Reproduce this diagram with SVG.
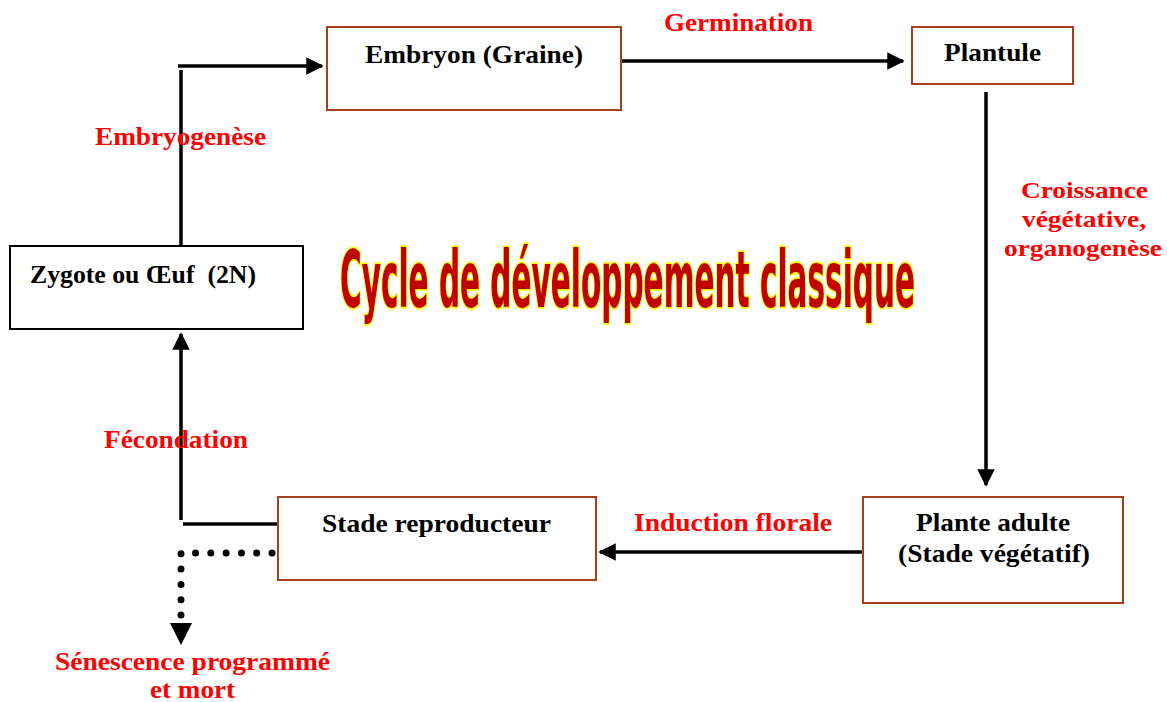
<svg xmlns="http://www.w3.org/2000/svg" width="1167" height="702" viewBox="0 0 1167 702">
<style>
.box{fill:#fff;stroke:#A5401C;stroke-width:2}
.boxk{fill:#fff;stroke:#000;stroke-width:2}
.t{font-family:"Liberation Serif","Times New Roman",serif;font-weight:bold;font-size:25px;fill:#000}
.r{font-family:"Liberation Serif","Times New Roman",serif;font-weight:bold;font-size:25px;fill:#FF0000}
.r2{font-family:"Liberation Serif","Times New Roman",serif;font-weight:bold;font-size:23.5px;fill:#FF0000}
.ln{stroke:#000;stroke-width:3.5;fill:none}
.title{font-family:"Liberation Sans Narrow","DejaVu Sans Condensed","Liberation Sans",sans-serif;font-weight:bold;font-size:78px;fill:#C00000;stroke:#FFFF00;stroke-width:3.5;paint-order:stroke;stroke-linejoin:round}
</style>
<defs>
<marker id="ah" markerWidth="5" markerHeight="5" refX="4.5" refY="2.5" orient="auto" markerUnits="strokeWidth">
<path d="M0,0 L5,2.5 L0,5 Z" fill="#000"/>
</marker>
</defs>
<rect width="1167" height="702" fill="#fff"/>
<g id="connectors">
<path class="ln" d="M178,66 L322,66" marker-end="url(#ah)"/>
<path class="ln" d="M181,70 L181,246"/>
<path class="ln" d="M621,61 L903,61" marker-end="url(#ah)"/>
<path class="ln" d="M986,92 L986,485" marker-end="url(#ah)"/>
<path class="ln" d="M863,552 L600,552" marker-end="url(#ah)"/>
<path class="ln" d="M278,524 L183,524"/>
<path class="ln" d="M181,520 L181,334" marker-end="url(#ah)"/>
<path d="M272,553 L181,553 L181,616" fill="none" stroke="#000" stroke-width="7" stroke-linecap="round" stroke-dasharray="0 15.3"/>
<path d="M170,623 L192,623 L181,645 Z" fill="#000"/>
</g>
<g id="title">
<text class="title" x="340" y="307" textLength="575" lengthAdjust="spacingAndGlyphs">Cycle de développement classique</text>
</g>
<g id="embryon">
<rect class="box" x="327" y="27" width="294" height="83"/>
<text class="t" x="365" y="63" textLength="218" lengthAdjust="spacingAndGlyphs">Embryon (Graine)</text>
</g>
<g id="plantule">
<rect class="box" x="912" y="27" width="161" height="57"/>
<text class="t" x="944" y="61" textLength="97" lengthAdjust="spacingAndGlyphs">Plantule</text>
</g>
<g id="zygote">
<rect class="boxk" x="10" y="246" width="293" height="83"/>
<text class="t" x="30" y="283" textLength="226" lengthAdjust="spacingAndGlyphs" xml:space="preserve" style="white-space:pre">Zygote ou Œuf  (2N)</text>
</g>
<g id="reproducteur">
<rect class="box" x="278" y="497" width="318" height="83"/>
<text class="t" x="322" y="532" textLength="229" lengthAdjust="spacingAndGlyphs">Stade reproducteur</text>
</g>
<g id="adulte">
<rect class="box" x="863" y="497" width="260" height="106"/>
<text class="t" x="916" y="531" textLength="154" lengthAdjust="spacingAndGlyphs">Plante adulte</text>
<text class="t" x="898" y="562" textLength="192" lengthAdjust="spacingAndGlyphs">(Stade végétatif)</text>
</g>
<g id="labels">
<text class="r" x="664" y="31" textLength="149" lengthAdjust="spacingAndGlyphs">Germination</text>
<text class="r" x="95" y="145" textLength="171" lengthAdjust="spacingAndGlyphs">Embryogenèse</text>
<text class="r2" x="1021" y="198" textLength="127" lengthAdjust="spacingAndGlyphs">Croissance</text>
<text class="r2" x="1022" y="227" textLength="124" lengthAdjust="spacingAndGlyphs">végétative,</text>
<text class="r2" x="1004" y="256" textLength="158" lengthAdjust="spacingAndGlyphs">organogenèse</text>
<text class="r" x="634" y="531" textLength="198" lengthAdjust="spacingAndGlyphs">Induction florale</text>
<text class="r" x="104" y="448" textLength="144" lengthAdjust="spacingAndGlyphs">Fécondation</text>
<text class="r" x="55" y="670" textLength="275" lengthAdjust="spacingAndGlyphs">Sénescence programmé</text>
<text class="r" x="150" y="698" textLength="85" lengthAdjust="spacingAndGlyphs">et mort</text>
</g>
</svg>
